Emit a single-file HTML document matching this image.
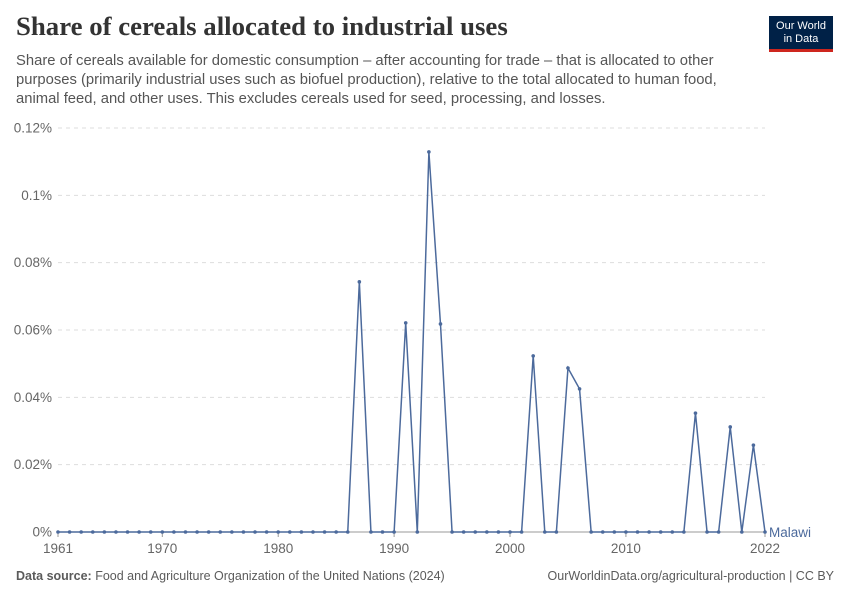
<!DOCTYPE html>
<html><head><meta charset="utf-8">
<style>
body{margin:0;background:#fff;font-family:"Liberation Sans",sans-serif;}
#wrap{position:relative;width:850px;height:600px;overflow:hidden;}
.title{position:absolute;left:16px;top:11px;font-family:"Liberation Serif",serif;font-size:26.8px;font-weight:bold;color:#333;margin:0;white-space:nowrap;}
.sub{position:absolute;left:16px;top:52px;font-size:14.8px;line-height:19px;color:#555;margin:0;white-space:nowrap;}
.logo{position:absolute;left:769px;top:16px;width:64px;height:36px;background:#002147;color:#fff;font-size:11px;line-height:13px;text-align:center;padding-top:4px;box-sizing:border-box;border-bottom:3px solid #ce261e;}
.foot{position:absolute;top:569px;font-size:12.5px;color:#5b5b5b;}
</style></head><body>
<div id="wrap">
<h1 class="title">Share of cereals allocated to industrial uses</h1>
<p class="sub">Share of cereals available for domestic consumption – after accounting for trade – that is allocated to other<br>purposes (primarily industrial uses such as biofuel production), relative to the total allocated to human food,<br>animal feed, and other uses. This excludes cereals used for seed, processing, and losses.</p>
<div class="logo">Our World<br>in Data</div>
<svg id="chart" width="850" height="600" style="position:absolute;left:0;top:0"></svg>
<div class="foot" style="left:16px"><b>Data source:</b> Food and Agriculture Organization of the United Nations (2024)</div>
<div class="foot" style="right:16px">OurWorldinData.org/agricultural-production | CC BY</div>
</div>
<script>
const years=[];for(let y=1961;y<=2022;y++)years.push(y);
const peakYears=[1987,1991,1993,1994,2002,2005,2006,2016,2019,2021];
const peakValues=[0.0743,0.0621,0.1129,0.0618,0.0523,0.0487,0.0425,0.0353,0.0312,0.0258];
const yTicks=[0,0.02,0.04,0.06,0.08,0.1,0.12];
const yTickLabels=["0%","0.02%","0.04%","0.06%","0.08%","0.1%","0.12%"];
const xTicks=[1961,1970,1980,1990,2000,2010,2022];
const values=years.map(y=>{const i=peakYears.indexOf(y);return i>=0?peakValues[i]:0;});
const NS="http://www.w3.org/2000/svg",svg=document.getElementById('chart');
const x=v=>58+(v-1961)*(765-58)/(2022-1961);
const y=v=>532-v*(532-128)/0.12;
function el(t,a,txt){const e=document.createElementNS(NS,t);for(const k in a)e.setAttribute(k,a[k]);if(txt!=null)e.textContent=txt;svg.appendChild(e);return e;}
yTicks.forEach((t,i)=>{
 const g=el('line',{x1:58,x2:765,y1:y(t),y2:y(t),stroke:t===0?'#999':'#ddd','stroke-dasharray':t===0?'':'4,4'});
 
 
 const l=el('text',{x:52,y:y(t)+4.5,'text-anchor':'end','font-size':13.5,fill:'#666'},yTickLabels[i]);
 
 
});
xTicks.forEach(t=>{
 const tk=el('line',{x1:x(t),x2:x(t),y1:532,y2:537,stroke:'#999'});
 
 
 const l=el('text',{x:x(t),y:553,'text-anchor':'middle','font-size':13.5,fill:'#666'},String(t));
 
 
});
const p=el('polyline',{points:years.map((yr,i)=>x(yr)+','+y(values[i])).join(' '),fill:'none',stroke:'#4c6a9c','stroke-width':1.5});


years.forEach((yr,i)=>{
 const c=el('circle',{cx:x(yr),cy:y(values[i]),r:1.8,fill:'#4c6a9c'});
 
 
});
const lab=el('text',{x:769,y:y(values[values.length-1])+5,'font-size':13.5,fill:'#4c6a9c'},'Malawi');


</script>
</body></html>
